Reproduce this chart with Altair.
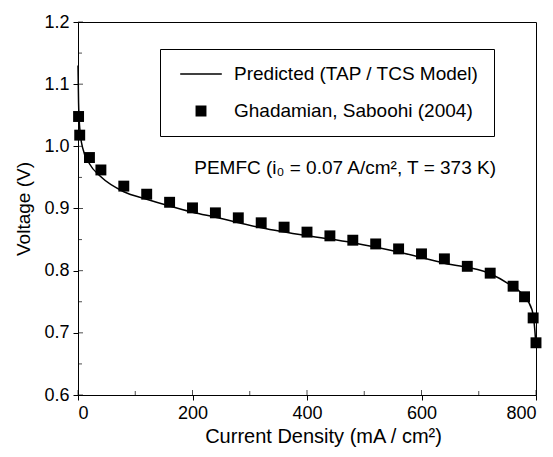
import altair as alt
import pandas as pd

# Measured data (Ghadamian, Saboohi 2004)
meas_x = [1, 3, 20, 40, 80, 120, 160, 200, 240, 280, 320, 360, 400, 440, 480,
          520, 560, 600, 640, 680, 720, 760, 780, 795, 800]
meas_y = [1.048, 1.018, 0.982, 0.962, 0.936, 0.923, 0.910, 0.901, 0.893, 0.885,
          0.877, 0.870, 0.862, 0.856, 0.849, 0.843, 0.835, 0.827, 0.819, 0.807,
          0.796, 0.775, 0.758, 0.724, 0.684]

# Predicted curve (TAP / TCS model)
pred_x = [0, 1, 3, 8, 20, 40, 80, 120, 160, 200, 240, 320, 400, 480, 560, 640,
          720, 750, 777, 793, 798, 800]
pred_y = [1.13, 1.07, 1.03, 0.998, 0.972, 0.951, 0.927, 0.915, 0.904, 0.894, 0.886,
          0.869, 0.856, 0.845, 0.830, 0.812, 0.795, 0.780, 0.761, 0.737, 0.704, 0.677]

series_names = ["Predicted (TAP / TCS Model)", "Ghadamian, Saboohi (2004)"]

x_major = [0, 200, 400, 600, 800]
x_minor = [100, 300, 500, 700]
y_major = [0.6, 0.7, 0.8, 0.9, 1.0, 1.1, 1.2]
y_minor = [0.65, 0.75, 0.85, 0.95, 1.05, 1.15]

note_text = ["PEMFC (i\u2080 = 0.07 A/cm\u00b2, T = 373 K)"]
note_x = [203]
note_y = [0.965]

FONT = "Liberation Sans"

meas = pd.DataFrame({"x": meas_x, "y": meas_y, "series": series_names[1]})
pred = pd.DataFrame({"x": pred_x, "y": pred_y})
note = pd.DataFrame({"x": note_x, "y": note_y, "t": note_text})

xs = alt.Scale(domain=[0, 800], nice=False, zero=False)
ys = alt.Scale(domain=[0.6, 1.2], nice=False, zero=False)

xaxis = alt.Axis(values=x_major, title="Current Density (mA / cm\u00b2)", format="d",
                 grid=False, tickSize=5, labelPadding=4, titlePadding=4,
                 titleX=245, titleFontSize=20)
yaxis = alt.Axis(values=y_major, title="Voltage (V)", format=".1f",
                 grid=False, tickSize=5, labelPadding=4, titlePadding=10)

line_path = "M-0.8,-0.03H0.8V0.03H-0.8Z"
square_path = "M-0.21,-0.21H0.21V0.21H-0.21Z"

line = alt.Chart(pred).mark_line(color="black", strokeWidth=1.5, interpolate="monotone").encode(
    x=alt.X("x:Q", scale=xs, axis=xaxis),
    y=alt.Y("y:Q", scale=ys, axis=yaxis),
)

points = alt.Chart(meas).mark_point(filled=True, color="black", size=2704, opacity=1).encode(
    x=alt.X("x:Q", scale=xs),
    y=alt.Y("y:Q", scale=ys),
    shape=alt.Shape(
        "series:N",
        scale=alt.Scale(domain=series_names, range=[line_path, square_path]),
        legend=alt.Legend(
            title=None, orient="none", legendX=82, legendY=27,
            padding=15, clipHeight=20, rowPadding=17, labelOffset=7,
            labelFont=FONT, labelFontSize=19, labelColor="black",
            strokeColor="black", symbolSize=2704, symbolStrokeWidth=0,
            symbolFillColor="black", symbolOpacity=1, labelLimit=400,
        ),
    ),
)

xmaj_in = alt.Chart(pd.DataFrame({"v": x_major})).mark_tick(
    orient="vertical", color="black", size=5, thickness=1, yOffset=-2.5
).encode(x=alt.X("v:Q", scale=xs), y=alt.datum(0.6, scale=ys))

xmin_in = alt.Chart(pd.DataFrame({"v": x_minor})).mark_tick(
    orient="vertical", color="black", size=4, thickness=1, yOffset=-2
).encode(x=alt.X("v:Q", scale=xs), y=alt.datum(0.6, scale=ys))

ymaj_in = alt.Chart(pd.DataFrame({"v": y_major})).mark_tick(
    orient="horizontal", color="black", size=5, thickness=1, xOffset=2.5
).encode(y=alt.Y("v:Q", scale=ys), x=alt.datum(0, scale=xs))

ymin_in = alt.Chart(pd.DataFrame({"v": y_minor})).mark_tick(
    orient="horizontal", color="black", size=4, thickness=1, xOffset=2
).encode(y=alt.Y("v:Q", scale=ys), x=alt.datum(0, scale=xs))

text = alt.Chart(note).mark_text(
    align="left", baseline="middle", font=FONT, fontSize=19, color="black"
).encode(x=alt.X("x:Q", scale=xs), y=alt.Y("y:Q", scale=ys), text="t:N")

chart = alt.layer(line, points, xmaj_in, xmin_in, ymaj_in, ymin_in, text).properties(
    width=458, height=373,
    autosize=alt.AutoSizeParams(type="none"),
    padding={"left": 70, "top": 14, "right": 9, "bottom": 54},
).configure_view(stroke="black", strokeWidth=1).configure_axis(
    domainColor="black", tickColor="black", labelColor="black", titleColor="black",
    labelFont=FONT, titleFont=FONT, labelFontSize=18, titleFontSize=19,
    titleFontWeight="normal",
).configure_legend(strokeWidth=1)

chart.save("out.html", embed_options={"renderer": "svg", "actions": False})
